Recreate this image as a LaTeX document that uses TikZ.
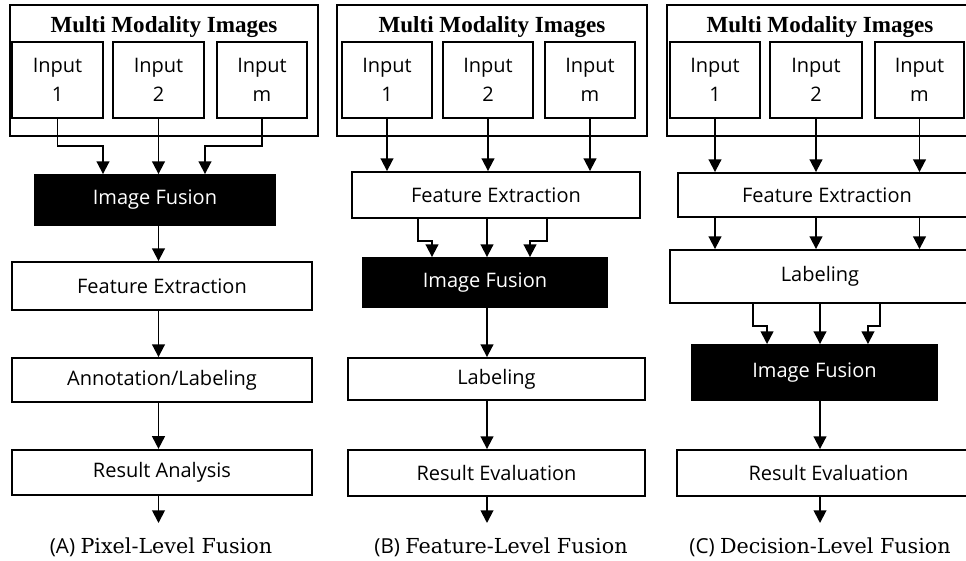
\documentclass[tikz,border=0pt]{standalone}
\usepackage{fontspec}
\usepackage{tikz}
\usetikzlibrary{arrows.meta,positioning}
\newfontfamily\boxfont{Open Sans}
\newfontfamily\titlefont{Liberation Serif}
\newfontfamily\capfont{DejaVu Serif}

\begin{document}
\begin{tikzpicture}[
  x=0.75pt, y=-0.75pt,
  font=\boxfont\fontsize{15}{22}\selectfont,
  box/.style={
     rectangle, draw=black, line width=1.4pt,
     fill=white, align=center, inner sep=0pt},
  inbox/.style={box, minimum width=68pt, minimum height=57pt},
  outer/.style={box, minimum height=98.25pt},
  fusion/.style={box, fill=black, text=white},
  title/.style={font=\titlefont\bfseries\fontsize{17.3}{19}\selectfont},
  caption/.style={font=\boxfont\fontsize{15.5}{17}\selectfont},
  arrow/.style={-{Triangle[length=9.5pt,width=9.5pt]}, line width=1.4pt}]
\path[use as bounding box, clip] (0,0) rectangle (966,560);

% (A) pixel level
\node[outer, minimum width=231pt] (mmiA) at (164,70.5) {};
\node[title] (titA) at (164,27) {Multi Modality Images};
\node[inbox] (inA1) at (57.5,80) {Input\\1};
\node[inbox] (inA2) at (158.5,80) {Input\\2};
\node[inbox] (inA3) at (262,80) {Input\\m};
\node[fusion, minimum width=180pt, minimum height=37.5pt] (fusA) at (155,200) {Image Fusion};
\node[box, minimum width=225pt, minimum height=36pt] (feA) at (162,286) {Feature Extraction};
\node[box, minimum width=225pt, minimum height=33pt] (labA) at (162,380) {Annotation/Labeling};
\node[box, minimum width=225pt, minimum height=34pt] (resA) at (162,472.5) {Result Analysis};
\coordinate (endA) at (158.5,523);
\node[caption] (capA) at (161,547) {(A) {\capfont Pixel-Level Fusion}};
\draw[arrow] (inA1.south) -- ++(0,27) -| ([xshift=-39pt]fusA.north);
\draw[arrow] (inA2.south) -- (inA2.south |- fusA.north);
\draw[arrow] (inA3.south) -- ++(0,27) -| ([xshift=37.5pt]fusA.north);
\draw[arrow] (inA2.south |- fusA.south) -- (inA2.south |- feA.north);
\draw[arrow] (inA2.south |- feA.south) -- (inA2.south |- labA.north);
\draw[arrow] (inA2.south |- labA.south) -- (inA2.south |- resA.north);
\draw[arrow] (inA2.south |- resA.south) -- (endA);

% (B) feature level
\node[outer, minimum width=232.5pt] (mmiB) at (492,70.5) {};
\node[title] (titB) at (492,27) {Multi Modality Images};
\node[inbox] (inB1) at (387,80) {Input\\1};
\node[inbox] (inB2) at (488,80) {Input\\2};
\node[inbox] (inB3) at (590,80) {Input\\m};
\node[box, minimum width=216pt, minimum height=34.5pt] (feB) at (496,195) {Feature Extraction};
\node[fusion, minimum width=183pt, minimum height=36.75pt] (fusB) at (485,282.5) {Image Fusion};
\node[box, minimum width=222.75pt, minimum height=31.5pt] (labB) at (496.5,379) {Labeling};
\node[box, minimum width=222.75pt, minimum height=34.5pt] (resB) at (496.5,473) {Result Evaluation};
\coordinate (endB) at (487,523);
\node[caption] (capB) at (501,547) {(B) {\capfont Feature-Level Fusion}};
\draw[arrow] (inB1.south) -- (inB1.south |- feB.north);
\draw[arrow] (inB2.south) -- (inB2.south |- feB.north);
\draw[arrow] (inB3.south) -- (inB3.south |- feB.north);
\draw[arrow] ([xshift=-58.5pt]feB.south) -- ++(0,22) -| ([xshift=-39.75pt]fusB.north);
\draw[arrow] (endB |- feB.south) -- (endB |- fusB.north);
\draw[arrow] ([xshift=38.25pt]feB.south) -- ++(0,22) -| ([xshift=33.75pt]fusB.north);
\draw[arrow] (endB |- fusB.south) -- (endB |- labB.north);
\draw[arrow] (endB |- labB.south) -- (endB |- resB.north);
\draw[arrow] (endB |- resB.south) -- (endB);

% (C) decision level
\node[outer, minimum width=234.75pt] (mmiC) at (823.5,70.5) {};
\node[title] (titC) at (820,27) {Multi Modality Images};
\node[inbox] (inC1) at (715,80) {Input\\1};
\node[inbox, minimum width=69pt] (inC2) at (816,80) {Input\\2};
\node[inbox, minimum width=66.75pt] (inC3) at (919.5,80) {Input\\m};
\node[box, minimum width=223.5pt, minimum height=33pt] (feC) at (827,195) {Feature Extraction};
\node[box, minimum width=225pt, minimum height=39.75pt] (labC) at (820,276.5) {Labeling};
\node[fusion, minimum width=183.75pt, minimum height=41.25pt] (fusC) at (814.5,372.5) {Image Fusion};
\node[box, minimum width=227.25pt, minimum height=34.5pt] (resC) at (828.5,473) {Result Evaluation};
\coordinate (endC) at (820,523);
\node[caption] (capC) at (820,547) {(C) {\capfont Decision-Level Fusion}};
\draw[arrow] (inC1.south) -- (inC1.south |- feC.north);
\draw[arrow] (inC2.south) -- (inC2.south |- feC.north);
\draw[arrow] (inC3.south) -- (inC3.south |- feC.north);
\draw[arrow] (inC1.south |- feC.south) -- (inC1.south |- labC.north);
\draw[arrow] (inC2.south |- feC.south) -- (inC2.south |- labC.north);
\draw[arrow] (inC3.south |- feC.south) -- (inC3.south |- labC.north);
\draw[arrow] ([xshift=-50.25pt]labC.south) -- ++(0,22) -| ([xshift=-35.6pt]fusC.north);
\draw[arrow] (labC.south) -- (labC.south |- fusC.north);
\draw[arrow] ([xshift=45pt]labC.south) -- ++(0,22) -| ([xshift=40.1pt]fusC.north);
\draw[arrow] (endC |- fusC.south) -- (endC |- resC.north);
\draw[arrow] (endC |- resC.south) -- (endC);
\end{tikzpicture}
\end{document}
